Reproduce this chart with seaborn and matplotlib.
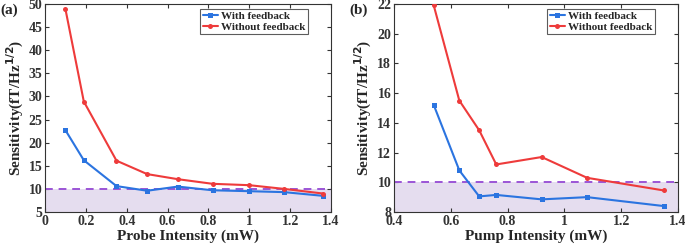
import seaborn as sns
import matplotlib.pyplot as plt
import pandas as pd

# panel (a): probe intensity sweep
probe_x = [0.10, 0.19, 0.35, 0.50, 0.65, 0.82, 1.00, 1.17, 1.36]
probe_with = [22.7, 16.2, 10.6, 9.6, 10.5, 9.7, 9.5, 9.3, 8.5]
probe_without = [48.9, 28.9, 16.1, 13.2, 12.1, 11.1, 10.8, 10.0, 9.0]

# panel (b): pump intensity sweep
pump_x = [0.54, 0.63, 0.70, 0.76, 0.92, 1.08, 1.35]
pump_with = [15.2, 10.8, 9.05, 9.15, 8.85, 9.0, 8.4]
pump_without = [21.9, 15.5, 13.5, 11.2, 11.7, 10.3, 9.45]

series_names = ['With feedback', 'Without feedback']
colors = {'With feedback': '#2b74e0', 'Without feedback': '#ee3b3b'}
markers = {'With feedback': 's', 'Without feedback': 'o'}

sns.set_style('ticks')
plt.rcParams['font.family'] = ['Liberation Serif', 'DejaVu Serif']
plt.rcParams['font.weight'] = 'bold'
plt.rcParams['axes.labelweight'] = 'bold'


def make_frame(x, with_fb, without_fb):
    df1 = pd.DataFrame({'x': x, 'y': with_fb, 'series': series_names[0]})
    df2 = pd.DataFrame({'x': x, 'y': without_fb, 'series': series_names[1]})
    return pd.concat([df1, df2], ignore_index=True)


def draw_panel(ax, df, xlim, ylim, xticks, yticks, xlabel, tag, width_px):
    ax.axhspan(ylim[0], 10, color='#e5ddef', zorder=0, lw=0)
    ax.axhline(10, color='#9b55d6', ls=(0, (4, 3)), lw=1.4, zorder=1)
    sns.lineplot(data=df, x='x', y='y', hue='series', style='series',
                 palette=colors, markers=markers, dashes=False,
                 markersize=3.6, markeredgewidth=0, linewidth=1.5, ax=ax, zorder=3)
    ax.set_xlim(*xlim)
    ax.set_ylim(*ylim)
    ax.set_xticks(xticks)
    ax.set_xticklabels([('%g' % t) for t in xticks])
    ax.set_yticks(yticks)
    ax.set_xlabel(xlabel, fontsize=11, labelpad=1)
    ax.set_ylabel('Sensitivity(fT/Hz$^{\\mathbf{1/2}}$)', fontsize=11, labelpad=2)
    ax.tick_params(direction='in', length=3, labelsize=10, top=True, right=True,
                   colors='#333333', pad=2)
    for lab in ax.get_xticklabels() + ax.get_yticklabels():
        lab.set_fontweight('bold')
    for sp in ax.spines.values():
        sp.set_color('#333333')
        sp.set_linewidth(0.8)
    leg = ax.legend(loc='upper right', fontsize=8, frameon=True, fancybox=False,
                    borderpad=0.2, handlelength=1.4, handletextpad=0.3,
                    labelspacing=0.1, borderaxespad=0,
                    bbox_to_anchor=(1 - 23 / width_px, 1 - 5 / 208))
    leg.get_frame().set_edgecolor('#333333')
    leg.get_frame().set_linewidth(0.8)
    for t in leg.get_texts():
        t.set_fontweight('bold')
    ax.text(-45 / width_px, 1.0, tag, transform=ax.transAxes, fontsize=11,
            fontweight='bold', va='top')


fig = plt.figure(figsize=(6.85, 2.45), dpi=100)
ax1 = fig.add_axes([45 / 685, 33 / 245, 286 / 685, 208 / 245])
ax2 = fig.add_axes([394 / 685, 33 / 245, 284 / 685, 208 / 245])

draw_panel(ax1, make_frame(probe_x, probe_with, probe_without),
           (0, 1.4), (5, 50), [0, 0.2, 0.4, 0.6, 0.8, 1.0, 1.2, 1.4],
           list(range(5, 51, 5)), 'Probe Intensity (mW)', '(a)', 286)
draw_panel(ax2, make_frame(pump_x, pump_with, pump_without),
           (0.4, 1.4), (8, 22), [0.4, 0.6, 0.8, 1.0, 1.2, 1.4],
           list(range(8, 23, 2)), 'Pump Intensity (mW)', '(b)', 284)

fig.savefig('out.png', dpi=100)
